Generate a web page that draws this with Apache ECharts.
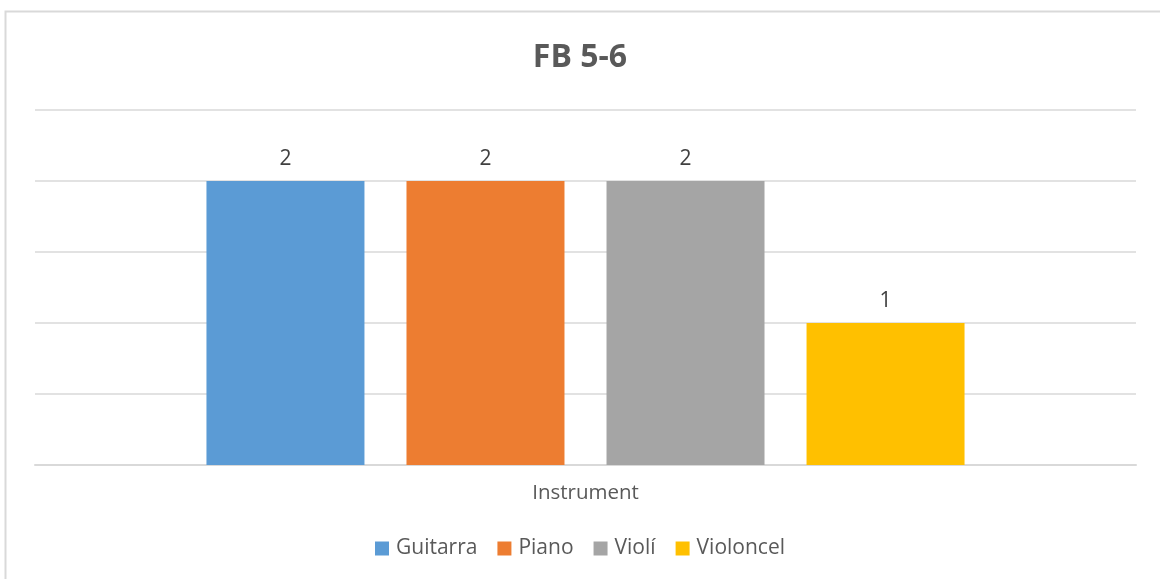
<!DOCTYPE html>
<html>
<head>
<meta charset="utf-8">
<script src="https://cdn.jsdelivr.net/npm/echarts@6/dist/echarts.min.js"></script>
<style>
  html, body { margin: 0; padding: 0; background: #fff; }
  #chart { width: 1160px; height: 579px; }
</style>
</head>
<body>
<div id="chart"></div>
<script>
// chart data
const categories = ['Instrument'];
const seriesNames = ['Guitarra', 'Piano', 'Violí', 'Violoncel'];
const seriesValues = [[2], [2], [2], [1]];
const seriesColors = ['#5B9BD5', '#ED7D31', '#A5A5A5', '#FFC000'];

const textColor = '#595959';
const fontFamily = '"Open Sans", sans-serif';

const chart = echarts.init(document.getElementById('chart'), null, { renderer: 'canvas' });

const series = seriesNames.map(function (name, i) {
    return {
        name: name,
        type: 'bar',
        data: seriesValues[i],
        barWidth: 158,
        barGap: '26.6%',
        itemStyle: { color: seriesColors[i] },
        label: {
            show: true,
            position: 'top',
            distance: 11,
            color: '#404040',
            fontSize: 21,
            fontFamily: fontFamily
        },
        animation: false
    };
});

chart.setOption({
    backgroundColor: '#fff',
    title: {
        text: 'FB 5-6',
        left: 'center',
        top: 37,
        textStyle: {
            color: textColor,
            fontSize: 32,
            fontWeight: 'bold',
            fontFamily: fontFamily
        }
    },
    graphic: [{
        type: 'rect',
        shape: { x: 5.5, y: 11.5, width: 1200, height: 700 },
        style: { fill: 'none', stroke: '#D9D9D9', lineWidth: 2 },
        silent: true
    }],
    legend: {
        bottom: 15,
        left: 'center',
        itemWidth: 14,
        itemHeight: 14,
        itemGap: 20,
        icon: 'rect',
        textStyle: { color: textColor, fontSize: 21, fontFamily: fontFamily, padding: [0, 0, 0, 2] },
        data: seriesNames
    },
    grid: { left: 35, right: 24, top: 110, bottom: 114 },
    xAxis: {
        type: 'category',
        data: categories,
        axisLine: { show: true, lineStyle: { color: '#D9D9D9', width: 2 } },
        axisTick: { show: false },
        axisLabel: { color: textColor, fontSize: 20.5, margin: 18, fontFamily: fontFamily }
    },
    yAxis: {
        type: 'value',
        min: 0,
        max: 2.5,
        interval: 0.5,
        axisLine: { show: false },
        axisTick: { show: false },
        axisLabel: { show: false },
        splitLine: { lineStyle: { color: '#D9D9D9', width: 1.5 } }
    },
    series: series
});
</script>
</body>
</html>
